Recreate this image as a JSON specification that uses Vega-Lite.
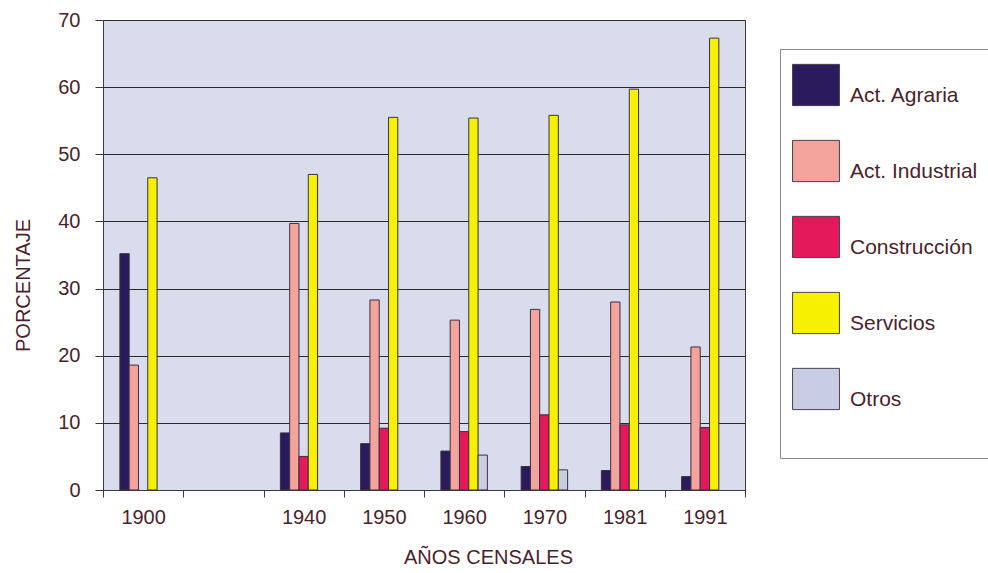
{
  "$schema": "https://vega.github.io/schema/vega-lite/v6.json",
  "width": 642,
  "height": 470,
  "autosize": {"type": "none"},
  "padding": {"left": 103, "top": 20, "right": 243, "bottom": 83},
  "background": "#ffffff",
  "config": {
    "font": "Liberation Sans",
    "view": {"fill": "#d9dcec", "stroke": "#3a3a3a", "strokeWidth": 1},
    "axis": {"labelColor": "#4a1f2e", "titleColor": "#4a1f2e", "labelFont": "Liberation Sans", "titleFont": "Liberation Sans", "titleFontWeight": "normal"}
  },
  "data": {
    "values": [
      {"anio": "1900", "sector": "Act. Agraria", "valor": 35.2},
      {"anio": "1900", "sector": "Act. Industrial", "valor": 18.6},
      {"anio": "1900", "sector": "Servicios", "valor": 46.5},
      {"anio": "1940", "sector": "Act. Agraria", "valor": 8.5},
      {"anio": "1940", "sector": "Act. Industrial", "valor": 39.7},
      {"anio": "1940", "sector": "Construcción", "valor": 5.0},
      {"anio": "1940", "sector": "Servicios", "valor": 47.0},
      {"anio": "1950", "sector": "Act. Agraria", "valor": 6.9},
      {"anio": "1950", "sector": "Act. Industrial", "valor": 28.3},
      {"anio": "1950", "sector": "Construcción", "valor": 9.2},
      {"anio": "1950", "sector": "Servicios", "valor": 55.5},
      {"anio": "1960", "sector": "Act. Agraria", "valor": 5.8},
      {"anio": "1960", "sector": "Act. Industrial", "valor": 25.3},
      {"anio": "1960", "sector": "Construcción", "valor": 8.7},
      {"anio": "1960", "sector": "Servicios", "valor": 55.4},
      {"anio": "1960", "sector": "Otros", "valor": 5.2},
      {"anio": "1970", "sector": "Act. Agraria", "valor": 3.5},
      {"anio": "1970", "sector": "Act. Industrial", "valor": 26.9},
      {"anio": "1970", "sector": "Construcción", "valor": 11.2},
      {"anio": "1970", "sector": "Servicios", "valor": 55.8},
      {"anio": "1970", "sector": "Otros", "valor": 3.0},
      {"anio": "1981", "sector": "Act. Agraria", "valor": 2.9},
      {"anio": "1981", "sector": "Act. Industrial", "valor": 28.0},
      {"anio": "1981", "sector": "Construcción", "valor": 9.7},
      {"anio": "1981", "sector": "Servicios", "valor": 59.7},
      {"anio": "1991", "sector": "Act. Agraria", "valor": 2.0},
      {"anio": "1991", "sector": "Act. Industrial", "valor": 21.3},
      {"anio": "1991", "sector": "Construcción", "valor": 9.3},
      {"anio": "1991", "sector": "Servicios", "valor": 67.3}
    ]
  },
  "mark": {"type": "bar", "stroke": "#3a3040", "strokeWidth": 1},
  "encoding": {
    "x": {
      "field": "anio",
      "type": "nominal",
      "scale": {"domain": ["1900", " ", "1940", "1950", "1960", "1970", "1981", "1991"], "paddingInner": 0, "paddingOuter": 0},
      "axis": {
        "title": "AÑOS CENSALES",
        "titleFontSize": 20,
        "titleX": 385,
        "titleY": 73,
        "titleBaseline": "alphabetic",
        "titleAlign": "center",
        "labelAngle": 0,
        "labelFontSize": 20,
        "labelPadding": 10,
        "labelBaseline": "top",
        "tickBand": "extent",
        "tickSize": 7,
        "tickColor": "#3a3a3a",
        "domainColor": "#3a3a3a",
        "grid": false
      }
    },
    "xOffset": {
      "field": "sector",
      "type": "nominal",
      "scale": {"domain": ["_izq", "Act. Agraria", "Act. Industrial", "Construcción", "Servicios", "Otros", "_der"], "paddingInner": 0, "paddingOuter": 0.815}
    },
    "y": {
      "field": "valor",
      "type": "quantitative",
      "scale": {"domain": [0, 70], "nice": false},
      "axis": {
        "title": "PORCENTAJE",
        "titleFontSize": 20,
        "titleAngle": -90,
        "titleX": -80,
        "titleY": 265,
        "titleAlign": "center",
        "titleBaseline": "middle",
        "values": [0, 10, 20, 30, 40, 50, 60, 70],
        "labelFontSize": 20,
        "labelPadding": 15,
        "tickSize": 8,
        "tickColor": "#3a3a3a",
        "domainColor": "#3a3a3a",
        "grid": true,
        "gridColor": "#2a2a2a",
        "gridWidth": 1,
        "gridOpacity": 1
      }
    },
    "color": {
      "field": "sector",
      "type": "nominal",
      "title": "\u00a0",
      "scale": {
        "domain": ["Act. Agraria", "Act. Industrial", "Construcción", "Servicios", "Otros"],
        "range": ["#2b1b5c", "#f4a49c", "#e3195b", "#f7f000", "#c9cde3"]
      },
      "legend": {
        "orient": "none",
        "legendX": 677,
        "legendY": 29,
        "padding": 12,
        "strokeColor": "#8a8a8a",
        "fillColor": "#ffffff",
        "symbolType": "M-1,-0.88L1,-0.88L1,0.88L-1,0.88Z",
        "symbolSize": 2200,
        "symbolStrokeColor": "#4a4050",
        "symbolStrokeWidth": 1,
        "symbolOpacity": 1,
        "labelFontSize": 21,
        "labelColor": "#4a1f2e",
        "labelFont": "Liberation Sans",
        "labelOffset": 10,
        "labelBaseline": "top",
        "labelLimit": 300,
        "rowPadding": 29,
        "titleOrient": "bottom",
        "titleFontSize": 10,
        "titlePadding": 24
      }
    }
  }
}
